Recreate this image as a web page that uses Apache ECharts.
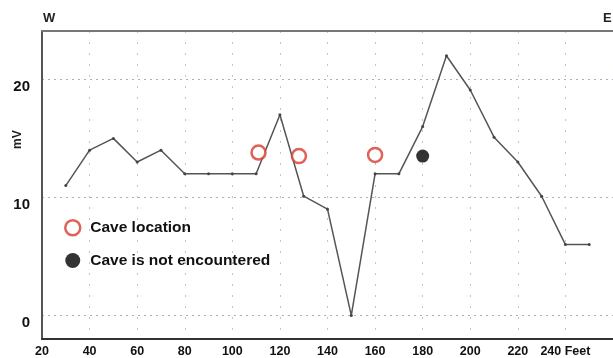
<!DOCTYPE html>
<html>
<head>
<meta charset="utf-8">
<script src="https://cdn.jsdelivr.net/npm/echarts@6/dist/echarts.min.js"></script>
<style>
html,body{margin:0;padding:0;background:#fff;}
#c{width:613px;height:358px;}
</style>
</head>
<body>
<div id="c"></div>
<script>
const feet = [30,40,50,60,70,80,90,100,110,120,130,140,150,160,170,180,190,200,210,220,230,240,250];
const mv = [11,14,15,13,14,12,12,12,12,17,10.1,9,0,12,12,16,22,19.1,15.1,13,10.1,6,6];
const caveFeet = [111,128,160];
const caveMv = [13.8,13.5,13.6];
const noCaveFeet = [180];
const noCaveMv = [13.5];
const xTicks = [20,40,60,80,100,120,140,160,180,200,220,240];
const yTicks = [0,10,20];
const xUnit = 'Feet';

const zip = (a,b) => a.map((v,i)=>[v,b[i]]);
const chart = echarts.init(document.getElementById('c'));
const font = 'Liberation Sans, Arial, sans-serif';
chart.setOption({
  animation:false,
  backgroundColor:'#fff',
  grid:{left:42,top:31,right:0,bottom:18,containLabel:false},
  xAxis:[{
    type:'value',min:20,max:260,interval:20,
    axisLine:{show:true,onZero:false,lineStyle:{color:'#333',width:2}},
    axisTick:{show:false},
    axisLabel:{customValues:xTicks,color:'#111',fontWeight:'bold',fontSize:12.5,fontFamily:font,margin:6,
      formatter:v=> v===240 ? v+' '+xUnit : String(v)},
    splitLine:{show:true,lineStyle:{color:'#c4c4c4',type:[2,9],width:1}}
  },{
    type:'value',position:'top',min:20,max:260,
    axisLine:{show:true,onZero:false,lineStyle:{color:'#777',width:2}},
    axisTick:{show:false},axisLabel:{show:false},splitLine:{show:false}
  }],
  yAxis:{
    type:'value',min:-2,max:24.1,
    axisLine:{show:true,onZero:false,lineStyle:{color:'#555',width:2}},
    axisTick:{show:false,customValues:yTicks},
    axisLabel:{customValues:yTicks,color:'#111',fontWeight:'bold',fontSize:15,fontFamily:font,margin:12,verticalAlign:'top'},
    splitLine:{show:true,lineStyle:{color:'#a8b0c0',type:[2,4],width:1}}
  },
  legend:{
    orient:'vertical',left:59,top:214,itemGap:16,itemWidth:15,itemHeight:15,
    textStyle:{fontWeight:'bold',fontSize:15.5,fontFamily:font,color:'#111',padding:[0,0,0,5]},
    data:[
      {name:'Cave location',icon:'circle',itemStyle:{color:'#fff',borderColor:'#d83a2e',borderWidth:2.5}},
      {name:'Cave is not encountered',icon:'circle',itemStyle:{color:'#000'}}
    ]
  },
  graphic:[
    {type:'text',left:43,top:12,style:{text:'W',font:'bold 13px '+font,fill:'#222'}},
    {type:'text',left:603,top:12,style:{text:'E',font:'bold 13px '+font,fill:'#222'}},
    {type:'text',x:12,y:149,rotation:Math.PI/2,style:{text:'mV',font:'bold 12px '+font,fill:'#222'}}
  ],
  series:[
    {type:'line',data:zip(feet,mv),symbol:'circle',symbolSize:3,z:2,
      lineStyle:{color:'#555',width:1.5},itemStyle:{color:'#444'}},
    {name:'Cave location',type:'scatter',data:zip(caveFeet,caveMv),symbol:'circle',symbolSize:14,z:5,
      itemStyle:{color:'#fff',borderColor:'#d83a2e',borderWidth:2.5}},
    {name:'Cave is not encountered',type:'scatter',data:zip(noCaveFeet,noCaveMv),symbol:'circle',symbolSize:13,z:5,
      itemStyle:{color:'#000'}}
  ]
});
</script>
</body>
</html>
